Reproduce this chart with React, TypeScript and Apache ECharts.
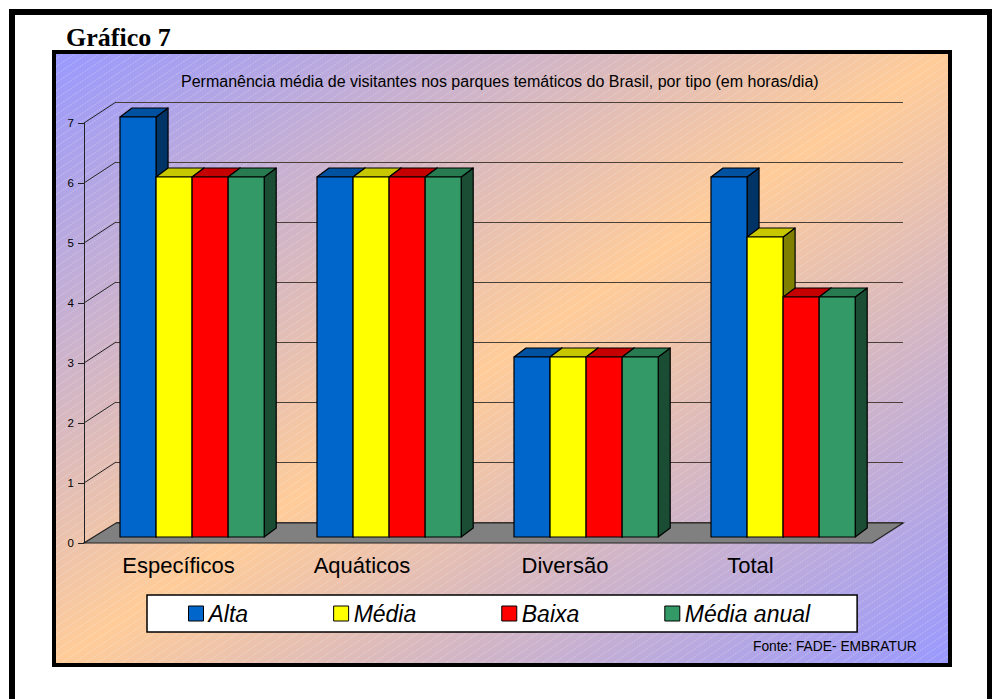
import React, { useEffect, useRef } from "react";
import * as echarts from "echarts";

const categories = ["Específicos", "Aquáticos", "Diversão", "Total"];
const seriesNames = ["Alta", "Média", "Baixa", "Média anual"];
const alta = [7, 6, 3, 6];
const media = [6, 6, 3, 5];
const baixa = [6, 6, 3, 4];
const mediaAnual = [6, 6, 3, 4];
const seriesValues = [alta, media, baixa, mediaAnual];
const wallTicks = [1, 2, 3, 4, 5, 6, 7];
const labelShift = [8, 35, 23, 46];

const frontColors = ["#0066CC", "#FFFF00", "#FF0000", "#339966"];
const topColors = ["#00519F", "#C8C800", "#C40000", "#287A50"];
const sideColors = ["#003366", "#808000", "#800000", "#1A4D33"];

const SANS = "'Liberation Sans', Arial, Helvetica, sans-serif";
const SERIF = "'Liberation Serif', 'Times New Roman', serif";

const WALL_DX = 32;
const WALL_DY = -21;
const BAR_OFF_X = 9.6;
const BAR_OFF_Y = -6;
const BAR_DX = 12;
const BAR_DY = -9;

const hatchSvg =
  '<svg xmlns="http://www.w3.org/2000/svg" width="12" height="8">' +
  '<line x1="-1.5" y1="9" x2="13.5" y2="-1" stroke="white" stroke-opacity="0.45" stroke-width="0.7" stroke-dasharray="1.6 1.2"/>' +
  "</svg>";
const hatchUrl = "data:image/svg+xml;charset=utf-8," + encodeURIComponent(hatchSvg);

export default function App() {
  const ref = useRef<HTMLDivElement>(null);

  useEffect(() => {
    if (!ref.current) return;
    const chart = echarts.init(ref.current, null, { renderer: "svg" });

    const barSeries = seriesValues.map((vals, s) => ({
      type: "custom",
      name: seriesNames[s],
      xAxisIndex: 0,
      yAxisIndex: 0,
      itemStyle: { color: frontColors[s] },
      encode: { x: 0, y: 1 },
      data: vals.map((v, i) => [i, v]),
      z: 5,
      renderItem: (params: any, api: any) => {
        const idx = api.value(0);
        const val = api.value(1);
        const top = api.coord([idx, val]);
        const base = api.coord([idx, 0]);
        const band = api.size([1, 0])[0];
        const bw = band * 0.183;
        const x0 = top[0] - 2 * bw + s * bw + BAR_OFF_X;
        const yTop = top[1] + BAR_OFF_Y;
        const yBot = base[1] + BAR_OFF_Y;
        const stroke = { stroke: "#000", lineWidth: 1.2, lineJoin: "round" };
        return {
          type: "group",
          children: [
            {
              type: "polygon",
              shape: {
                points: [
                  [x0 + bw, yTop],
                  [x0 + bw + BAR_DX, yTop + BAR_DY],
                  [x0 + bw + BAR_DX, yBot + BAR_DY],
                  [x0 + bw, yBot],
                ],
              },
              style: { fill: sideColors[s], ...stroke },
            },
            {
              type: "polygon",
              shape: {
                points: [
                  [x0, yTop],
                  [x0 + BAR_DX, yTop + BAR_DY],
                  [x0 + bw + BAR_DX, yTop + BAR_DY],
                  [x0 + bw, yTop],
                ],
              },
              style: { fill: topColors[s], ...stroke },
            },
            {
              type: "rect",
              shape: { x: x0, y: yTop, width: bw, height: yBot - yTop },
              style: { fill: frontColors[s], ...stroke },
            },
          ],
        };
      },
    }));

    const option: any = {
      animation: false,
      textStyle: { fontFamily: SANS },
      graphic: [
        {
          type: "rect",
          z: -20,
          shape: { x: 12, y: 12, width: 978, height: 800 },
          style: { fill: "#fff", stroke: "#000", lineWidth: 6 },
          silent: true,
        },
        {
          type: "rect",
          z: -19,
          shape: { x: 54, y: 52, width: 896, height: 613 },
          style: {
            fill: new echarts.graphic.LinearGradient(0, 0, 1, 1, [
              { offset: 0, color: "#9999FF" },
              { offset: 0.5, color: "#FFCC99" },
              { offset: 1, color: "#9999FF" },
            ]),
            stroke: "#000",
            lineWidth: 4,
          },
          silent: true,
        },
        {
          type: "rect",
          z: -18,
          shape: { x: 56, y: 54, width: 892, height: 609 },
          style: {
            fill: { image: hatchUrl, repeat: "repeat", imageWidth: 12, imageHeight: 8 },
          },
          silent: true,
        },
      ],
      title: [
        {
          text: "Gráfico 7",
          left: 66,
          top: 24,
          padding: 0,
          textStyle: { fontFamily: SERIF, fontSize: 26, fontWeight: "bold", color: "#000" },
        },
        {
          text: "Permanência média de visitantes nos parques temáticos do Brasil, por tipo (em horas/dia)",
          left: 181,
          top: 73,
          padding: 0,
          textStyle: { fontFamily: SANS, fontSize: 16, fontWeight: "normal", color: "#000" },
        },
        {
          text: "Fonte: FADE- EMBRATUR",
          left: 753,
          top: 639,
          padding: 0,
          textStyle: { fontFamily: SANS, fontSize: 13.8, fontWeight: "normal", color: "#000" },
        },
      ],
      legend: {
        data: seriesNames,
        left: 147,
        top: 595,
        orient: "horizontal",
        icon: "rect",
        itemWidth: 15,
        itemHeight: 15,
        itemGap: 85,
        backgroundColor: "#fff",
        borderColor: "#000",
        borderWidth: 1.5,
        borderRadius: 0,
        padding: [7, 47, 7, 41],
        itemStyle: { borderColor: "#000", borderWidth: 1 },
        textStyle: { fontFamily: SANS, fontSize: 23, fontStyle: "italic", color: "#000", lineHeight: 22 },
        selectedMode: false,
      },
      grid: [
        { left: 84, top: 123, width: 788, height: 420, containLabel: false },
        { left: 84 + WALL_DX, top: 123 + WALL_DY, width: 787, height: 420, containLabel: false },
      ],
      xAxis: [
        {
          type: "category",
          gridIndex: 0,
          data: categories.map((c, i) => ({
            value: c,
            textStyle: { padding: [0, labelShift[i], 0, 0] },
          })),
          axisLine: { show: false },
          axisTick: { show: false },
          splitLine: { show: false },
          axisLabel: { fontFamily: SANS, fontSize: 22, color: "#000", margin: 11, interval: 0 },
        },
        {
          type: "value",
          gridIndex: 1,
          min: 0,
          max: 1,
          show: false,
        },
      ],
      yAxis: [
        {
          type: "value",
          gridIndex: 0,
          min: 0,
          max: 7,
          interval: 1,
          axisLine: { show: true, lineStyle: { color: "#222", width: 1 } },
          axisTick: { show: true, length: 6, lineStyle: { color: "#222", width: 1 } },
          splitLine: { show: false },
          axisLabel: { fontFamily: SANS, fontSize: 11.5, color: "#000", margin: 10 },
        },
        {
          type: "value",
          gridIndex: 1,
          min: 0,
          max: 7,
          interval: 1,
          axisLine: { show: false },
          axisTick: { show: false },
          axisLabel: { show: false },
          splitLine: { show: true, lineStyle: { color: "#4a4038", width: 1.2 } },
        },
      ],
      series: [
        {
          type: "custom",
          name: "floor",
          xAxisIndex: 0,
          yAxisIndex: 0,
          silent: true,
          z: 3,
          data: [[0, 0]],
          encode: { x: 0, y: 1 },
          renderItem: (params: any, api: any) => {
            const cs = params.coordSys;
            const y0 = api.coord([0, 0])[1];
            return {
              type: "polygon",
              shape: {
                points: [
                  [cs.x, y0],
                  [cs.x + cs.width, y0],
                  [cs.x + cs.width + WALL_DX - 1, y0 + WALL_DY + 1],
                  [cs.x + WALL_DX, y0 + WALL_DY + 1],
                ],
              },
              style: { fill: "#808080", stroke: "#222", lineWidth: 1.2 },
            };
          },
        },
        {
          type: "custom",
          name: "wall",
          xAxisIndex: 0,
          yAxisIndex: 0,
          silent: true,
          z: 3,
          data: wallTicks.map((v) => [0, v]),
          encode: { x: 0, y: 1 },
          renderItem: (params: any, api: any) => {
            const cs = params.coordSys;
            const y = api.coord([0, api.value(1)])[1];
            return {
              type: "line",
              shape: { x1: cs.x, y1: y, x2: cs.x + WALL_DX, y2: y + WALL_DY },
              style: { stroke: "#222", lineWidth: 1 },
            };
          },
        },
        ...barSeries,
      ],
    };

    chart.setOption(option);
    return () => chart.dispose();
  }, []);

  return (
    <div
      ref={ref}
      style={{ position: "absolute", left: 0, top: 0, width: 992, height: 699 }}
    />
  );
}
